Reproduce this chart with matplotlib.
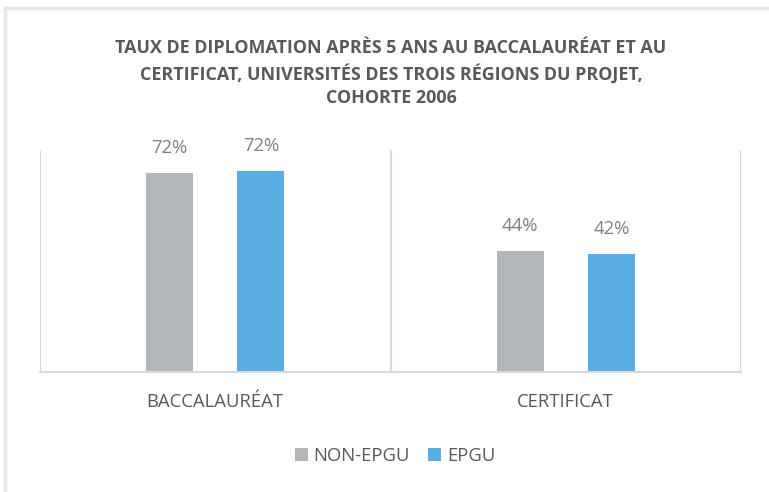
import matplotlib.pyplot as plt
from matplotlib.lines import Line2D
import numpy as np

categories = ["BACCALAURÉAT", "CERTIFICAT"]
series = ["NON-EPGU", "EPGU"]
non_epgu = [71.6, 43.6]
epgu = [72.3, 42.4]
title = ("TAUX DE DIPLOMATION APRÈS 5 ANS AU BACCALAURÉAT ET AU\n"
         "CERTIFICAT, UNIVERSITÉS DES TROIS RÉGIONS DU PROJET,\n"
         "COHORTE 2006")

GRAY = "#B4B7BA"
BLUE = "#5AADE2"
TEXT = "#595959"
LABEL = "#7F7F7F"
LINE = "#D9D9D9"

plt.rcParams['font.family'] = ['Open Sans', 'DejaVu Sans']

W, H = 769, 492
fig = plt.figure(figsize=(W / 100, H / 100), dpi=100)
ax = fig.add_axes([40 / W, 1 - 372 / H, (741 - 40) / W, (372 - 150) / H])

x = np.arange(len(categories))
bw = 0.135
off = 0.13
b1 = ax.bar(x - off, non_epgu, bw, color=GRAY, label=series[0])
b2 = ax.bar(x + off, epgu, bw, color=BLUE, label=series[1])

for bars, vals in ((b1, non_epgu), (b2, epgu)):
    for rect, v in zip(bars, vals):
        ax.annotate(f"{v:.0f}%", (rect.get_x() + rect.get_width() / 2, v),
                    xytext=(0, 18), textcoords="offset points",
                    ha="center", va="center", fontsize=13.3, color=LABEL)

ax.set_xlim(-0.5, 1.5)
ax.set_ylim(0, 80)
ax.vlines([-0.5, 0.5, 1.5], 0, 80, color=LINE, lw=1.5, zorder=0)
for s in ("top", "left", "right"):
    ax.spines[s].set_visible(False)
ax.spines["bottom"].set_color(LINE)
ax.spines["bottom"].set_linewidth(1.5)
ax.set_yticks([])
ax.set_xticks(x)
ax.set_xticklabels(categories, fontsize=13.3, color=TEXT)
ax.tick_params(axis="x", length=0, pad=15)

fig.text(391 / W, 1 - 73 / H, title, ha="center", va="center",
         fontsize=12.9, fontweight="bold", color=TEXT, linespacing=1.38)

fig.legend(loc="center", bbox_to_anchor=(395 / W, 1 - 456 / H), ncol=2,
           frameon=False, fontsize=13.3, handlelength=0.7, handleheight=0.7,
           handletextpad=0.3, columnspacing=1.0, labelcolor=TEXT)

# outer frame (left and top edges visible)
fig.add_artist(Line2D([5 / W, 5 / W], [0, 1 - 8 / H], color="#E3E5E8", lw=2.5,
                      transform=fig.transFigure))
fig.add_artist(Line2D([5 / W, 1], [1 - 8 / H, 1 - 8 / H], color="#E3E5E8", lw=2.5,
                      transform=fig.transFigure))

fig.savefig("out.png", dpi=100, facecolor="white")
